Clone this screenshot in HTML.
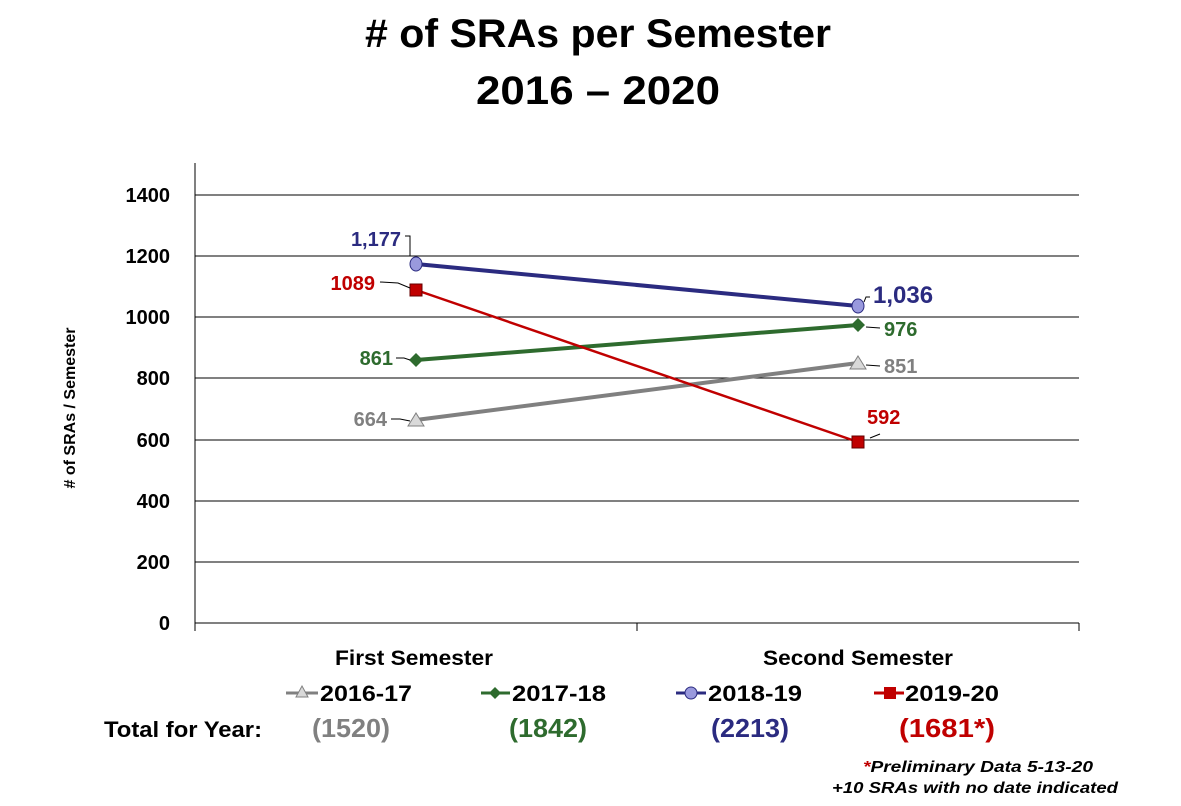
<!DOCTYPE html>
<html><head><meta charset="utf-8"><style>
html,body{margin:0;padding:0;background:#fff;}
svg{display:block;font-family:"Liberation Sans",sans-serif;font-weight:bold;}
</style></head><body>
<svg width="1181" height="806" viewBox="0 0 1181 806" xmlns="http://www.w3.org/2000/svg">
<text x="598" y="47" font-size="40" text-anchor="middle" textLength="466" lengthAdjust="spacingAndGlyphs">#  of SRAs per Semester</text>
<text x="598" y="104" font-size="40" text-anchor="middle" textLength="244" lengthAdjust="spacingAndGlyphs">2016 – 2020</text>
<g stroke="#000" stroke-width="1">
<line x1="195" y1="195" x2="1079" y2="195"/>
<line x1="195" y1="256" x2="1079" y2="256"/>
<line x1="195" y1="317" x2="1079" y2="317"/>
<line x1="195" y1="378" x2="1079" y2="378"/>
<line x1="195" y1="440" x2="1079" y2="440"/>
<line x1="195" y1="501" x2="1079" y2="501"/>
<line x1="195" y1="562" x2="1079" y2="562"/>
<line x1="195" y1="623" x2="1079" y2="623"/>
<line x1="195" y1="163" x2="195" y2="631"/>
<line x1="637" y1="623" x2="637" y2="631"/>
<line x1="1079" y1="623" x2="1079" y2="631"/>
</g>
<g font-size="20" text-anchor="end">
<text x="170" y="202">1400</text><text x="170" y="263">1200</text><text x="170" y="324">1000</text>
<text x="170" y="385">800</text><text x="170" y="447">600</text><text x="170" y="508">400</text>
<text x="170" y="569">200</text><text x="170" y="630">0</text>
</g>
<text transform="translate(75,408) rotate(-90)" font-size="16" text-anchor="middle">#  of SRAs / Semester</text>
<g font-size="21" text-anchor="middle">
<text x="414" y="665" textLength="158" lengthAdjust="spacingAndGlyphs">First Semester</text>
<text x="858" y="665" textLength="190" lengthAdjust="spacingAndGlyphs">Second Semester</text>
</g>
<line x1="416" y1="420" x2="858" y2="363" stroke="#808080" stroke-width="4"/>
<line x1="416" y1="360" x2="858" y2="325" stroke="#2e6b2e" stroke-width="4"/>
<line x1="416" y1="264" x2="858" y2="306" stroke="#2b2b80" stroke-width="4"/>
<line x1="416" y1="290" x2="858" y2="442" stroke="#c00000" stroke-width="2.5"/>
<polygon points="416,413 424,426 408,426" fill="#d9d9d9" stroke="#808080"/>
<polygon points="858,356 866,369 850,369" fill="#d9d9d9" stroke="#808080"/>
<polygon points="416,353 423,360 416,367 409,360" fill="#2e6b2e"/>
<polygon points="858,318 865,325 858,332 851,325" fill="#2e6b2e"/>
<ellipse cx="416" cy="264" rx="6" ry="7" fill="#9999dd" stroke="#2b2b80"/>
<ellipse cx="858" cy="306" rx="6" ry="7" fill="#9999dd" stroke="#2b2b80"/>
<rect x="410" y="284" width="12" height="12" fill="#c00000" stroke="#600"/>
<rect x="852" y="436" width="12" height="12" fill="#c00000" stroke="#600"/>
<g stroke="#000" stroke-width="1" fill="none">
<polyline points="405,236 410,236 410,256"/>
<polyline points="380,282 398,283 410,288"/>
<polyline points="396,358 404,358 410,360"/>
<polyline points="391,419 400,419 410,421"/>
<polyline points="864,302 866,297 870,297"/>
<polyline points="866,327 880,328"/>
<polyline points="866,365 880,366"/>
<polyline points="870,438 880,434"/>
</g>
<g font-size="20">
<text x="401" y="246" fill="#2b2b80" text-anchor="end">1,177</text>
<text x="375" y="290" fill="#c00000" text-anchor="end">1089</text>
<text x="393" y="365" fill="#2e6b2e" text-anchor="end">861</text>
<text x="387" y="426" fill="#808080" text-anchor="end">664</text>
<text x="873" y="303" fill="#2b2b80" font-size="24">1,036</text>
<text x="884" y="336" fill="#2e6b2e">976</text>
<text x="884" y="373" fill="#808080">851</text>
<text x="867" y="424" fill="#c00000">592</text>
</g>
<g font-size="22">
<line x1="286" y1="693" x2="318" y2="693" stroke="#808080" stroke-width="3"/>
<polygon points="302,686 308,697 296,697" fill="#d9d9d9" stroke="#808080"/>
<text x="320" y="701" textLength="92" lengthAdjust="spacingAndGlyphs">2016-17</text>
<line x1="481" y1="693" x2="510" y2="693" stroke="#2e6b2e" stroke-width="3"/>
<polygon points="495,687 501,693 495,699 489,693" fill="#2e6b2e"/>
<text x="512" y="701" textLength="94" lengthAdjust="spacingAndGlyphs">2017-18</text>
<line x1="676" y1="693" x2="706" y2="693" stroke="#2b2b80" stroke-width="3"/>
<circle cx="691" cy="693" r="6" fill="#9999dd" stroke="#2b2b80"/>
<text x="708" y="701" textLength="94" lengthAdjust="spacingAndGlyphs">2018-19</text>
<line x1="874" y1="693" x2="904" y2="693" stroke="#c00000" stroke-width="3"/>
<rect x="884" y="687" width="12" height="12" fill="#c00000"/>
<text x="905" y="701" textLength="94" lengthAdjust="spacingAndGlyphs">2019-20</text>
</g>
<text x="104" y="737" font-size="22" textLength="158" lengthAdjust="spacingAndGlyphs">Total for Year:</text>
<g font-size="26">
<text x="312" y="737" fill="#808080" textLength="78" lengthAdjust="spacingAndGlyphs">(1520)</text>
<text x="509" y="737" fill="#2e6b2e" textLength="78" lengthAdjust="spacingAndGlyphs">(1842)</text>
<text x="711" y="737" fill="#2b2b80" textLength="78" lengthAdjust="spacingAndGlyphs">(2213)</text>
<text x="899" y="737" fill="#c00000" textLength="96" lengthAdjust="spacingAndGlyphs">(1681*)</text>
</g>
<g font-size="16" font-style="italic" text-anchor="end">
<text x="1093" y="772" textLength="230" lengthAdjust="spacingAndGlyphs"><tspan fill="#c00000">*</tspan>Preliminary Data 5-13-20</text>
<text x="1118" y="793" textLength="286" lengthAdjust="spacingAndGlyphs">+10 SRAs with no date indicated</text>
</g>
</svg>
</body></html>
